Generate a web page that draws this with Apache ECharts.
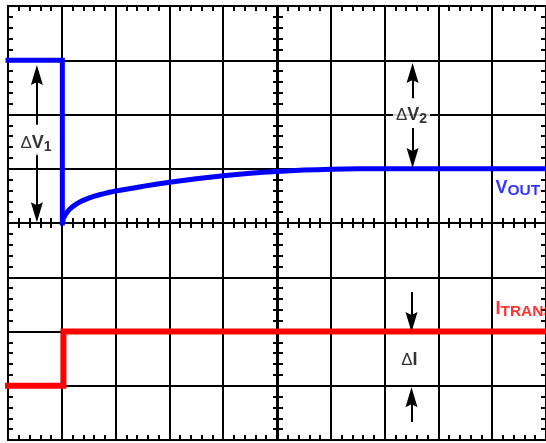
<!DOCTYPE html>
<html>
<head>
<meta charset="utf-8">
<script src="https://cdn.jsdelivr.net/npm/echarts@6/dist/echarts.min.js"></script>
<style>
  html, body { margin: 0; padding: 0; background: #fff; }
  #chart { width: 546px; height: 443px; }
</style>
</head>
<body>
<div id="chart"></div>
<script>
// scope divisions: 10 across, 8 down
const xMin = 0, xMax = 10
const yMin = 0, yMax = 8

// V_OUT trace, step part
const voutStepX = [0, 1.01, 1.01]
const voutStepY = [7, 7, 4.0]
// V_OUT recovery curve
const voutCurveX = [1.01, 1.03, 1.07, 1.14, 1.24, 1.36, 1.5, 1.7, 2.0, 2.5, 3.0, 3.5, 4.0, 4.5, 5.0, 5.5, 6.0, 6.5, 7, 10]
const voutCurveY = [4.0, 4.08, 4.16, 4.25, 4.33, 4.40, 4.46, 4.52, 4.59, 4.675, 4.75, 4.815, 4.87, 4.915, 4.95, 4.975, 4.99, 4.998, 5.0, 5.0]

// I_TRAN trace (load step)
const itranX = [0, 1.03, 1.03, 10]
const itranY = [1, 1, 2, 2]

// arrows: x, start y, end y (end = centre of the arrow head)
const arrowX = [0.537, 0.537, 7.52, 7.52, 7.5, 7.5]
const arrowFrom = [5.81, 5.29, 6.30, 5.75, 2.73, 0.33]
const arrowTo = [6.73, 4.20, 6.765, 5.20, 2.175, 0.79]

// annotation texts
const deltaLabels = [
    { main: 'V', sub: '1', x: 0.52, y: 5.47 },
    { main: 'V', sub: '2', x: 7.5, y: 5.99 },
    { main: 'I', sub: '', x: 7.46, y: 1.47 }
]
const traceLabels = [
    { main: 'V', sub: 'OUT', x: 9.06, y: 4.65, color: '#0000ff' },
    { main: 'I', sub: 'TRANSIENT', x: 9.06, y: 2.42, color: '#ff0000' }
]

const font = 'Liberation Sans, Arial, sans-serif'
// dart shaped head, tip pointing up
const arrowHead = 'path://M0,0 L6,20 L0,17 L-6,20 Z'

function toPairs(xs, ys) {
    return xs.map((x, i) => [x, ys[i]])
}

// one axis helper, all the borders and centre lines share the same scale
function scopeAxis(kind, position, offset, inside, grid) {
    const isX = kind === 'x'
    return {
        type: 'value',
        min: isX ? xMin : yMin,
        max: isX ? xMax : yMax,
        interval: 1,
        position: position,
        offset: offset,
        axisLine: { show: true, onZero: false, lineStyle: { color: '#000', width: 2 } },
        axisTick: { show: true, inside: inside, length: 5, lineStyle: { color: '#000', width: 2 } },
        minorTick: { show: true, splitNumber: 5, length: 5, lineStyle: { color: '#000', width: 2 } },
        axisLabel: { show: false },
        splitLine: { show: grid, lineStyle: { color: '#000', width: 2 } },
        minorSplitLine: { show: false }
    }
}

const chartDiv = document.getElementById('chart')
const myChart = echarts.init(chartDiv, null, { renderer: 'canvas' })

// shafts as plain mark lines, heads as rotated scatter symbols
const arrowShafts = arrowX.map((x, i) => [
    { coord: [x, arrowFrom[i]] },
    { coord: [x, arrowTo[i]] }
])
const arrowHeads = arrowX.map((x, i) => ({
    value: [x, arrowTo[i]],
    symbolRotate: arrowTo[i] > arrowFrom[i] ? 0 : 180
}))

const labelData = []
deltaLabels.forEach((l) => {
    labelData.push({
        value: [l.x, l.y],
        label: {
            show: true,
            position: 'inside',
            backgroundColor: '#fff',
            padding: [1, 3],
            formatter: '{d|\u0394}{m|' + l.main + '}' + (l.sub ? '{s|' + l.sub + '}' : ''),
            rich: {
                d: { fontFamily: font, fontSize: 17, color: '#000', lineHeight: 22, verticalAlign: 'middle' },
                m: { fontFamily: font, fontSize: 18, fontWeight: 'bold', color: '#000', lineHeight: 22, verticalAlign: 'middle' },
                s: { fontFamily: font, fontSize: 14, fontWeight: 'bold', color: '#000', lineHeight: 15, verticalAlign: 'bottom' }
            }
        }
    })
})
traceLabels.forEach((l) => {
    labelData.push({
        value: [l.x, l.y],
        label: {
            show: true,
            position: 'right',
            distance: 0,
            formatter: '{m|' + l.main + '}{s|' + l.sub + '}',
            rich: {
                m: { fontFamily: font, fontSize: 18, fontWeight: 'bold', color: l.color, lineHeight: 22, verticalAlign: 'middle' },
                s: { fontFamily: font, fontSize: 15.5, fontWeight: 'bold', color: l.color, lineHeight: 16, verticalAlign: 'bottom' }
            }
        }
    })
})

myChart.setOption({
    animation: false,
    backgroundColor: '#fff',
    grid: { left: 8, top: 6, width: 540, height: 434, show: false },
    xAxis: [
        scopeAxis('x', 'bottom', 0, true, true),
        scopeAxis('x', 'top', 0, true, false),
        scopeAxis('x', 'bottom', -217, true, false),
        scopeAxis('x', 'bottom', -217, false, false)
    ],
    yAxis: [
        scopeAxis('y', 'left', 0, true, true),
        scopeAxis('y', 'right', 0, true, false),
        scopeAxis('y', 'left', -270, true, false),
        scopeAxis('y', 'left', -270, false, false)
    ],
    series: [
        {
            name: 'ITRAN',
            type: 'line',
            data: toPairs(itranX, itranY),
            showSymbol: false,
            lineStyle: { color: '#ff0000', width: 6, cap: 'square', join: 'miter' },
            z: 3
        },
        {
            name: 'VOUT',
            type: 'line',
            data: toPairs(voutStepX, voutStepY),
            showSymbol: false,
            lineStyle: { color: '#0000ff', width: 5, cap: 'square', join: 'miter' },
            z: 3,
            markLine: {
                silent: true,
                symbol: ['none', 'none'],
                label: { show: false },
                lineStyle: { color: '#000', width: 2, type: 'solid' },
                emphasis: { disabled: true },
                data: arrowShafts
            }
        },
        {
            name: 'VOUT recovery',
            type: 'line',
            data: toPairs(voutCurveX, voutCurveY),
            showSymbol: false,
            smooth: 0.3,
            lineStyle: { color: '#0000ff', width: 5, cap: 'butt' },
            z: 3
        },
        {
            name: 'arrow heads',
            type: 'scatter',
            data: arrowHeads,
            symbol: arrowHead,
            symbolSize: [12, 20],
            itemStyle: { color: '#000', opacity: 1 },
            silent: true,
            z: 4
        },
        {
            name: 'labels',
            type: 'scatter',
            data: labelData,
            symbolSize: 0,
            silent: true,
            z: 5
        }
    ]
})
</script>
</body>
</html>
